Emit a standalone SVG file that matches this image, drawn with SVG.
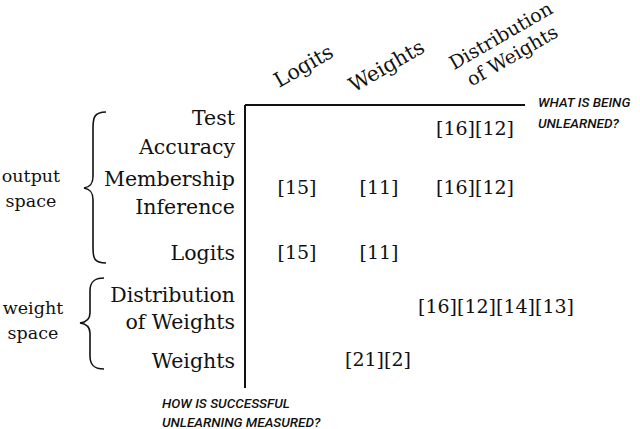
<svg xmlns="http://www.w3.org/2000/svg" width="640" height="429" viewBox="0 0 640 429">
<style>
.t{font-family:"DejaVu Serif",serif;font-size:20.5px;fill:#111}
.c{font-size:19px}
.r{text-anchor:end}
.m{text-anchor:middle}
.i{font-family:Roboto,"Liberation Sans",sans-serif;font-style:italic;font-weight:500;font-size:13.5px;fill:#111}
.l{stroke:#111;stroke-width:2;fill:none}
.b{stroke:#111;stroke-width:1.6;fill:none}
</style>
<rect width="640" height="429" fill="#fff"/>
<g id="axes"><path class="l" d="M245 105V388M245 105H525"/></g>
<g id="cols">
<text class="t m" transform="translate(307,72) rotate(-30)">Logits</text>
<text class="t m" transform="translate(390,72) rotate(-30)">Weights</text>
<text class="t m c" transform="translate(509,50) rotate(-30)"><tspan x="0" y="-10">Distribution</tspan><tspan x="0" y="13">of Weights</tspan></text>
</g>
<g id="rows">
<text class="t r" x="235" y="125">Test</text>
<text class="t r" x="235" y="154">Accuracy</text>
<text class="t r" x="235" y="186">Membership</text>
<text class="t r" x="235" y="214">Inference</text>
<text class="t r" x="235" y="260">Logits</text>
<text class="t r" x="235" y="302">Distribution</text>
<text class="t r" x="235" y="329">of Weights</text>
<text class="t r" x="235" y="368">Weights</text>
</g>
<g id="groups">
<text class="t m" x="31" y="182" style="font-size:17.5px">output</text>
<text class="t m" x="31" y="207" style="font-size:17.5px">space</text>
<text class="t m" x="33" y="314" style="font-size:17.5px">weight</text>
<text class="t m" x="33" y="339" style="font-size:17.5px">space</text>
<path class="b" d="M106 112C94 112 93 118 93 128V176C93 184 90 187 84 188C90 189 93 192 93 200V248C93 258 94 263 106 263"/>
<path class="b" d="M104 278C93 278 90 283 90 291V313C90 319 87 322 80 323C87 324 90 327 90 333V356C90 364 93 369 104 369"/>
</g>
<g id="cells">
<text class="t m c" x="475" y="135">[16][12]</text>
<text class="t m c" x="297" y="194">[15]</text>
<text class="t m c" x="379" y="194">[11]</text>
<text class="t m c" x="475" y="194">[16][12]</text>
<text class="t m c" x="297" y="259">[15]</text>
<text class="t m c" x="379" y="259">[11]</text>
<text class="t m c" x="496" y="313">[16][12][14][13]</text>
<text class="t m c" x="378" y="366">[21][2]</text>
</g>
<g id="notes">
<text class="i" x="538" y="107">WHAT IS BEING</text>
<text class="i" x="538" y="128">UNLEARNED?</text>
<text class="i" x="162" y="408">HOW IS SUCCESSFUL</text>
<text class="i" x="162" y="427">UNLEARNING MEASURED?</text>
</g>
</svg>
